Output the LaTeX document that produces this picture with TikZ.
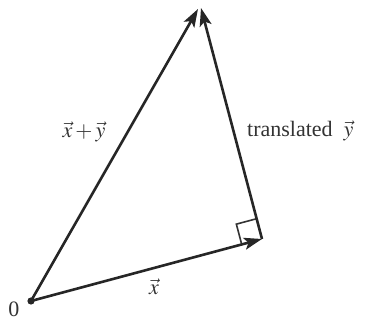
\documentclass[tikz,border=0pt]{standalone}
\usepackage{mathptmx}
\usepackage{fontspec}
\setmainfont{Liberation Serif}
\usetikzlibrary{arrows.meta,calc}
\tikzset{
  vec/.style={line width=2.6pt, draw=black!85, -{Stealth[length=18pt,width=12pt,inset=4pt]}},
  lbl/.style={font=\fontsize{22}{25}\selectfont, text=black!80, inner sep=0pt},
  rightangle/.style={line width=1.6pt, draw=black!80}
}
\begin{document}
\begin{tikzpicture}[x=1pt,y=-1pt]
  \useasboundingbox (0,0) rectangle (365,320);
  \fill[white] (0,0) rectangle (365,320);
  \coordinate (O) at (31,301);
  \coordinate (C) at (262,239);
  \coordinate (A1) at (198,9);
  \coordinate (A2) at (201,8);
  % right-angle mark
  \coordinate (P1) at ($(C)!21pt!(O)$);
  \coordinate (P2) at ($(C)!21pt!(A2)$);
  \coordinate (P3) at ($(P1)+(P2)-(C)$);
  \draw[rightangle] (P1) -- (P3) -- (P2);
  % vectors
  \draw[vec] (O) -- (C);
  \draw[vec] (O) -- (A1);
  \draw[vec] (C) -- (A2);
  \fill[black!85] (O) circle (3.6pt);
  % labels
  \node[lbl] (lxy) at (84,132) {$\vec{x}+\vec{y}$};
  \node[lbl, anchor=west] (lty) at (247,131) {translated\enspace$\vec{y}$};
  \node[lbl] (lx) at (154,287) {$\vec{x}$};
  \node[lbl] (l0) at (14,309) {0};
\end{tikzpicture}
\end{document}
